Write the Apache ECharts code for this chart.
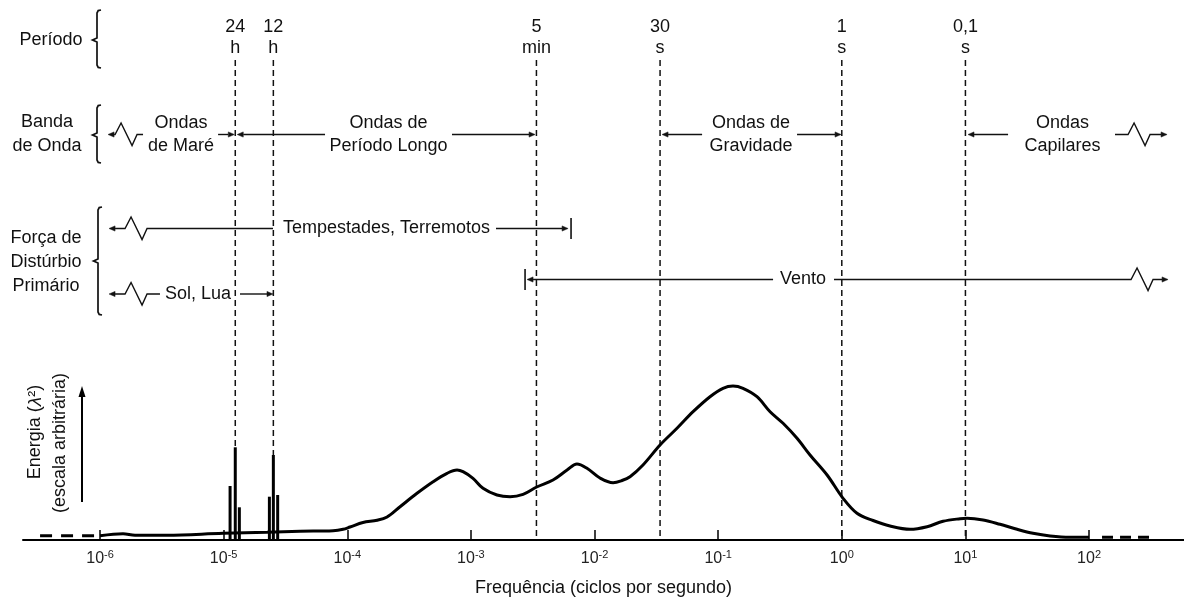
<!DOCTYPE html>
<html>
<head>
<meta charset="utf-8">
<script src="https://cdn.jsdelivr.net/npm/echarts@6/dist/echarts.min.js"></script>
<style>
  html, body { margin: 0; padding: 0; background: #fff; }
  #chart { width: 1184px; height: 599px; }
</style>
</head>
<body>
<div id="chart"></div>
<script>
// Decade exponents shown on the frequency axis (10^n cycles per second)
const tickExponents = [-6, -5, -4, -3, -2, -1, 0, 1, 2];

// Ocean wave energy spectrum: log10(frequency) and energy (arbitrary units)
const curveLogFreq = [
  -6.000, -5.814, -5.717, -5.458, -5.005, -4.649, -4.382, -4.115, -4.034, -3.978,
  -3.873, -3.759, -3.678, -3.573, -3.436, -3.306, -3.193, -3.112, -3.064, -2.983,
  -2.902, -2.789, -2.683, -2.578, -2.468, -2.336, -2.222, -2.142, -2.061, -1.956,
  -1.850, -1.778, -1.713, -1.608, -1.470, -1.333, -1.203, -1.066, -0.961, -0.880,
  -0.799, -0.686, -0.580, -0.475, -0.362, -0.257, -0.119, 0.010, 0.123, 0.253,
  0.390, 0.552, 0.690, 0.819, 0.957, 1.013, 1.143, 1.280, 1.418, 1.547,
  1.685, 1.846, 2.000
];
const curveEnergy = [
  2.15, 3.15, 2.35, 2.35, 3.35, 3.85, 4.35, 4.65, 5.35, 6.5,
  8.75, 9.85, 11.5, 16.65, 23.35, 29.15, 33.35, 35.0, 34.15, 30.85,
  25.85, 22.5, 21.65, 22.85, 26.5, 30.0, 35.0, 38.0, 35.85, 31.0,
  28.65, 29.75, 31.65, 37.5, 47.5, 55.85, 64.15, 71.65, 75.85, 77.0,
  75.85, 71.65, 64.15, 58.35, 50.85, 42.5, 32.5, 20.85, 13.35, 9.75,
  7.0, 5.35, 6.65, 9.35, 10.65, 10.85, 10.0, 7.85, 5.35, 3.35,
  2.0, 1.35, 1.35
];

// Dashed continuation of the spectrum beyond both ends
const tailLeftLogFreq = [-6.485, -6.0];
const tailLeftEnergy = [2.15, 2.15];
const tailRightLogFreq = [2.105, 2.49];
const tailRightEnergy = [1.35, 1.35];

// Tidal lines around the diurnal and semidiurnal periods
const tideLogFreq = [-4.948, -4.906, -4.873, -4.630, -4.598, -4.563];
const tideEnergy = [27, 46.35, 16.35, 21.65, 42.5, 22.5];

// Reference periods marked with vertical dashed lines
const periodLogFreq = [-4.906, -4.598, -2.47, -1.47, 0, 1];
const periodValue = ['24', '12', '5', '30', '1', '0,1'];
const periodUnit = ['h', 'h', 'min', 's', 's', 's'];

// Wave band names and where they sit along the frequency axis
const bandLabels = ['Ondas\nde Maré', 'Ondas de\nPeríodo Longo', 'Ondas de\nGravidade', 'Ondas\nCapilares'];
const bandLabelLogFreq = [-5.345, -3.666, -0.734, 1.786];

// Primary disturbing forces
const forceLabels = ['Tempestades, Terremotos', 'Vento', 'Sol, Lua'];
const forceLabelLogFreq = [-3.683, -0.313, -5.207];
const forceLabelRow = ['storms', 'wind', 'sunMoon'];

// Range arrows: tail -> head in log10(frequency); zig = distance of the break mark from the head (px)
const arrows = [
  { from: -5.652, to: -5.935, row: 'band', zig: 7 },
  { from: -5.045, to: -4.914, row: 'band' },
  { from: -4.180, to: -4.890, row: 'band' },
  { from: -3.153, to: -2.481, row: 'band' },
  { from: -1.130, to: -1.454, row: 'band' },
  { from: -0.362, to: -0.006, row: 'band' },
  { from: 1.345, to: 1.021, row: 'band' },
  { from: 2.210, to: 2.631, row: 'band', zig: 17 },
  { from: -4.601, to: -5.927, row: 'storms', zig: 16 },
  { from: -2.797, to: -2.214, row: 'storms', bar: -2.190 },
  { from: -0.556, to: -2.546, row: 'wind', bar: -2.562 },
  { from: -0.063, to: 2.639, row: 'wind', zig: 15 },
  { from: -5.515, to: -5.927, row: 'sunMoon', zig: 16 },
  { from: -4.868, to: -4.601, row: 'sunMoon' }
];

// Vertical layout of the annotation rows (layout axis runs top to bottom)
const ROW = { value: 27, unit: 48, lineTop: 60, band: 134.5, storms: 228.5, wind: 279.5, sunMoon: 294, base: 540 };

const INK = '#111';
const FAMILY = '"Liberation Sans", Arial, Helvetica, sans-serif';
const FONT = '18px ' + FAMILY;

const chart = echarts.init(document.getElementById('chart'), null, { renderer: 'canvas' });

function textEl(x, y, text) {
  return {
    type: 'text', x: x, y: y,
    style: {
      text: text, font: FONT, fill: INK,
      align: 'center', verticalAlign: 'middle',
      textAlign: 'center', textVerticalAlign: 'middle',
      lineHeight: 23
    }
  };
}

function renderPeriod(params, api) {
  const i = params.dataIndex;
  const x = api.coord([periodLogFreq[i], 0])[0];
  const yTop = api.coord([0, ROW.lineTop])[1];
  const yBot = api.coord([0, ROW.base])[1];
  return {
    type: 'group',
    children: [
      { type: 'line', shape: { x1: x, y1: yTop, x2: x, y2: yBot },
        style: { stroke: INK, lineWidth: 1.5, lineDash: [6, 4] } },
      textEl(x, api.coord([0, ROW.value])[1], periodValue[i]),
      textEl(x, api.coord([0, ROW.unit])[1], periodUnit[i])
    ]
  };
}

function renderArrow(params, api) {
  const a = arrows[params.dataIndex];
  const y = api.coord([0, ROW[a.row]])[1];
  const xt = api.coord([a.from, 0])[0];
  const xh = api.coord([a.to, 0])[0];
  const dir = xh > xt ? 1 : -1;
  const headLen = 6, headHalf = 2.6;
  const shaftEnd = xh - dir * headLen;
  let pts = [[xt, y]];
  if (a.zig != null) {
    const zx = dir < 0 ? xh + a.zig : xh - a.zig - 22;
    let zz = [[zx, y], [zx + 6, y - 11.5], [zx + 17, y + 11], [zx + 22, y]];
    if (dir < 0) zz = zz.reverse();
    pts = pts.concat(zz);
  }
  pts.push([shaftEnd, y]);
  const children = [
    { type: 'polyline', shape: { points: pts },
      style: { stroke: INK, lineWidth: 1.4, fill: 'none', lineJoin: 'miter' } },
    { type: 'polygon',
      shape: { points: [[xh, y], [xh - dir * headLen, y - headHalf], [xh - dir * headLen, y + headHalf]] },
      style: { fill: INK, stroke: INK, lineWidth: 0.5 } }
  ];
  if (a.bar != null) {
    const xb = api.coord([a.bar, 0])[0];
    children.push({ type: 'line', shape: { x1: xb, y1: y - 10.5, x2: xb, y2: y + 10.5 },
      style: { stroke: INK, lineWidth: 1.6 } });
  }
  return { type: 'group', children: children };
}

function renderBandLabel(params, api) {
  const i = params.dataIndex;
  const p = api.coord([bandLabelLogFreq[i], ROW.band]);
  return textEl(p[0], p[1], bandLabels[i]);
}

function renderForceLabel(params, api) {
  const i = params.dataIndex;
  const p = api.coord([forceLabelLogFreq[i], ROW[forceLabelRow[i]]]);
  return textEl(p[0], p[1], forceLabels[i]);
}

// Square bracket with a small notch pointing at the row title
function brace(top, bottom, mid, x) {
  return {
    type: 'polyline',
    shape: {
      points: [
        [x + 4, top], [x + 1.2, top + 0.6], [x, top + 3],
        [x, mid - 2], [x - 4.5, mid], [x, mid + 2],
        [x, bottom - 3], [x + 1.2, bottom - 0.6], [x + 4, bottom]
      ]
    },
    style: { stroke: INK, lineWidth: 1.7, fill: 'none' }
  };
}

const sideText = (x, y, text) => ({
  type: 'text', x: x, y: y,
  style: { text: text, font: FONT, fill: INK, align: 'center', verticalAlign: 'middle',
    textAlign: 'center', textVerticalAlign: 'middle', lineHeight: 24 }
});

const option = {
  animation: false,
  backgroundColor: '#fff',
  grid: { left: 23, right: 0, top: 0, bottom: 59, containLabel: false, outerBoundsMode: 'none' },
  xAxis: {
    type: 'value',
    min: -6.623,
    max: 2.768,
    splitLine: { show: false },
    axisLine: { onZero: false, lineStyle: { color: '#000', width: 2 } },
    axisTick: { show: true, inside: true, length: 10, customValues: tickExponents,
      lineStyle: { color: '#000', width: 1.5 } },
    axisLabel: {
      customValues: tickExponents,
      margin: 9,
      formatter: v => '{b|10}{s|' + (v < 0 ? '-' + (-v) : String(v)) + '}',
      rich: {
        b: { fontSize: 16, fontFamily: FAMILY, color: '#222', lineHeight: 20 },
        s: { fontSize: 11, fontFamily: FAMILY, color: '#222', lineHeight: 8, verticalAlign: 'top' }
      }
    },
    name: 'Frequência (ciclos por segundo)',
    nameLocation: 'middle',
    nameGap: 39,
    nameTextStyle: { fontSize: 18, fontFamily: FAMILY, color: INK }
  },
  yAxis: [
    { type: 'value', min: 0, max: 270, show: false },
    { type: 'value', min: 0, max: 540, inverse: true, show: false }
  ],
  series: [
    {
      name: 'marés', type: 'bar', yAxisIndex: 0, barWidth: 3, z: 4,
      itemStyle: { color: '#000' },
      data: tideLogFreq.map((x, i) => [x, tideEnergy[i]])
    },
    {
      name: 'espectro', type: 'line', yAxisIndex: 0, smooth: 0.35, symbol: 'none', z: 4,
      lineStyle: { color: '#000', width: 3 },
      data: curveLogFreq.map((x, i) => [x, curveEnergy[i]])
    },
    {
      type: 'line', yAxisIndex: 0, symbol: 'none', z: 4,
      lineStyle: { color: '#000', width: 3, type: [12, 9] },
      data: tailLeftLogFreq.map((x, i) => [x, tailLeftEnergy[i]])
    },
    {
      type: 'line', yAxisIndex: 0, symbol: 'none', z: 4,
      lineStyle: { color: '#000', width: 3, type: [11, 7] },
      data: tailRightLogFreq.map((x, i) => [x, tailRightEnergy[i]])
    },
    {
      type: 'custom', yAxisIndex: 1, z: 3, silent: true,
      renderItem: renderPeriod,
      data: periodLogFreq.map(x => [x, ROW.base])
    },
    {
      type: 'custom', yAxisIndex: 1, z: 3, silent: true,
      renderItem: renderArrow,
      encode: { x: [0, 1], y: 2 },
      data: arrows.map(a => [a.from, a.to, ROW[a.row]])
    },
    {
      type: 'custom', yAxisIndex: 1, z: 3, silent: true,
      renderItem: renderBandLabel,
      data: bandLabelLogFreq.map(x => [x, ROW.band])
    },
    {
      type: 'custom', yAxisIndex: 1, z: 3, silent: true,
      renderItem: renderForceLabel,
      data: forceLabelLogFreq.map((x, i) => [x, ROW[forceLabelRow[i]]])
    }
  ],
  graphic: {
    elements: [
      sideText(51, 40, 'Período'),
      sideText(47, 134.5, 'Banda\nde Onda'),
      sideText(46, 262, 'Força de\nDistúrbio\nPrimário'),
      brace(10, 68, 40, 97),
      brace(105, 163, 135, 97),
      brace(207, 315, 261, 98),
      {
        type: 'text', x: 35.5, y: 432, rotation: Math.PI / 2,
        style: {
          text: 'Energia ({l|λ}²)', font: FONT, fill: INK,
          align: 'center', verticalAlign: 'middle', textAlign: 'center', textVerticalAlign: 'middle',
          rich: { l: { font: 'italic 19px ' + FAMILY, fill: INK } }
        }
      },
      {
        type: 'text', x: 60, y: 443, rotation: Math.PI / 2,
        style: {
          text: '(escala arbitrária)', font: FONT, fill: INK,
          align: 'center', verticalAlign: 'middle', textAlign: 'center', textVerticalAlign: 'middle'
        }
      },
      { type: 'line', shape: { x1: 82, y1: 502, x2: 82, y2: 395 }, style: { stroke: '#000', lineWidth: 2 } },
      { type: 'polygon', shape: { points: [[82, 386], [78.5, 397], [85.5, 397]] }, style: { fill: '#000' } }
    ]
  }
};

chart.setOption(option);
</script>
</body>
</html>
